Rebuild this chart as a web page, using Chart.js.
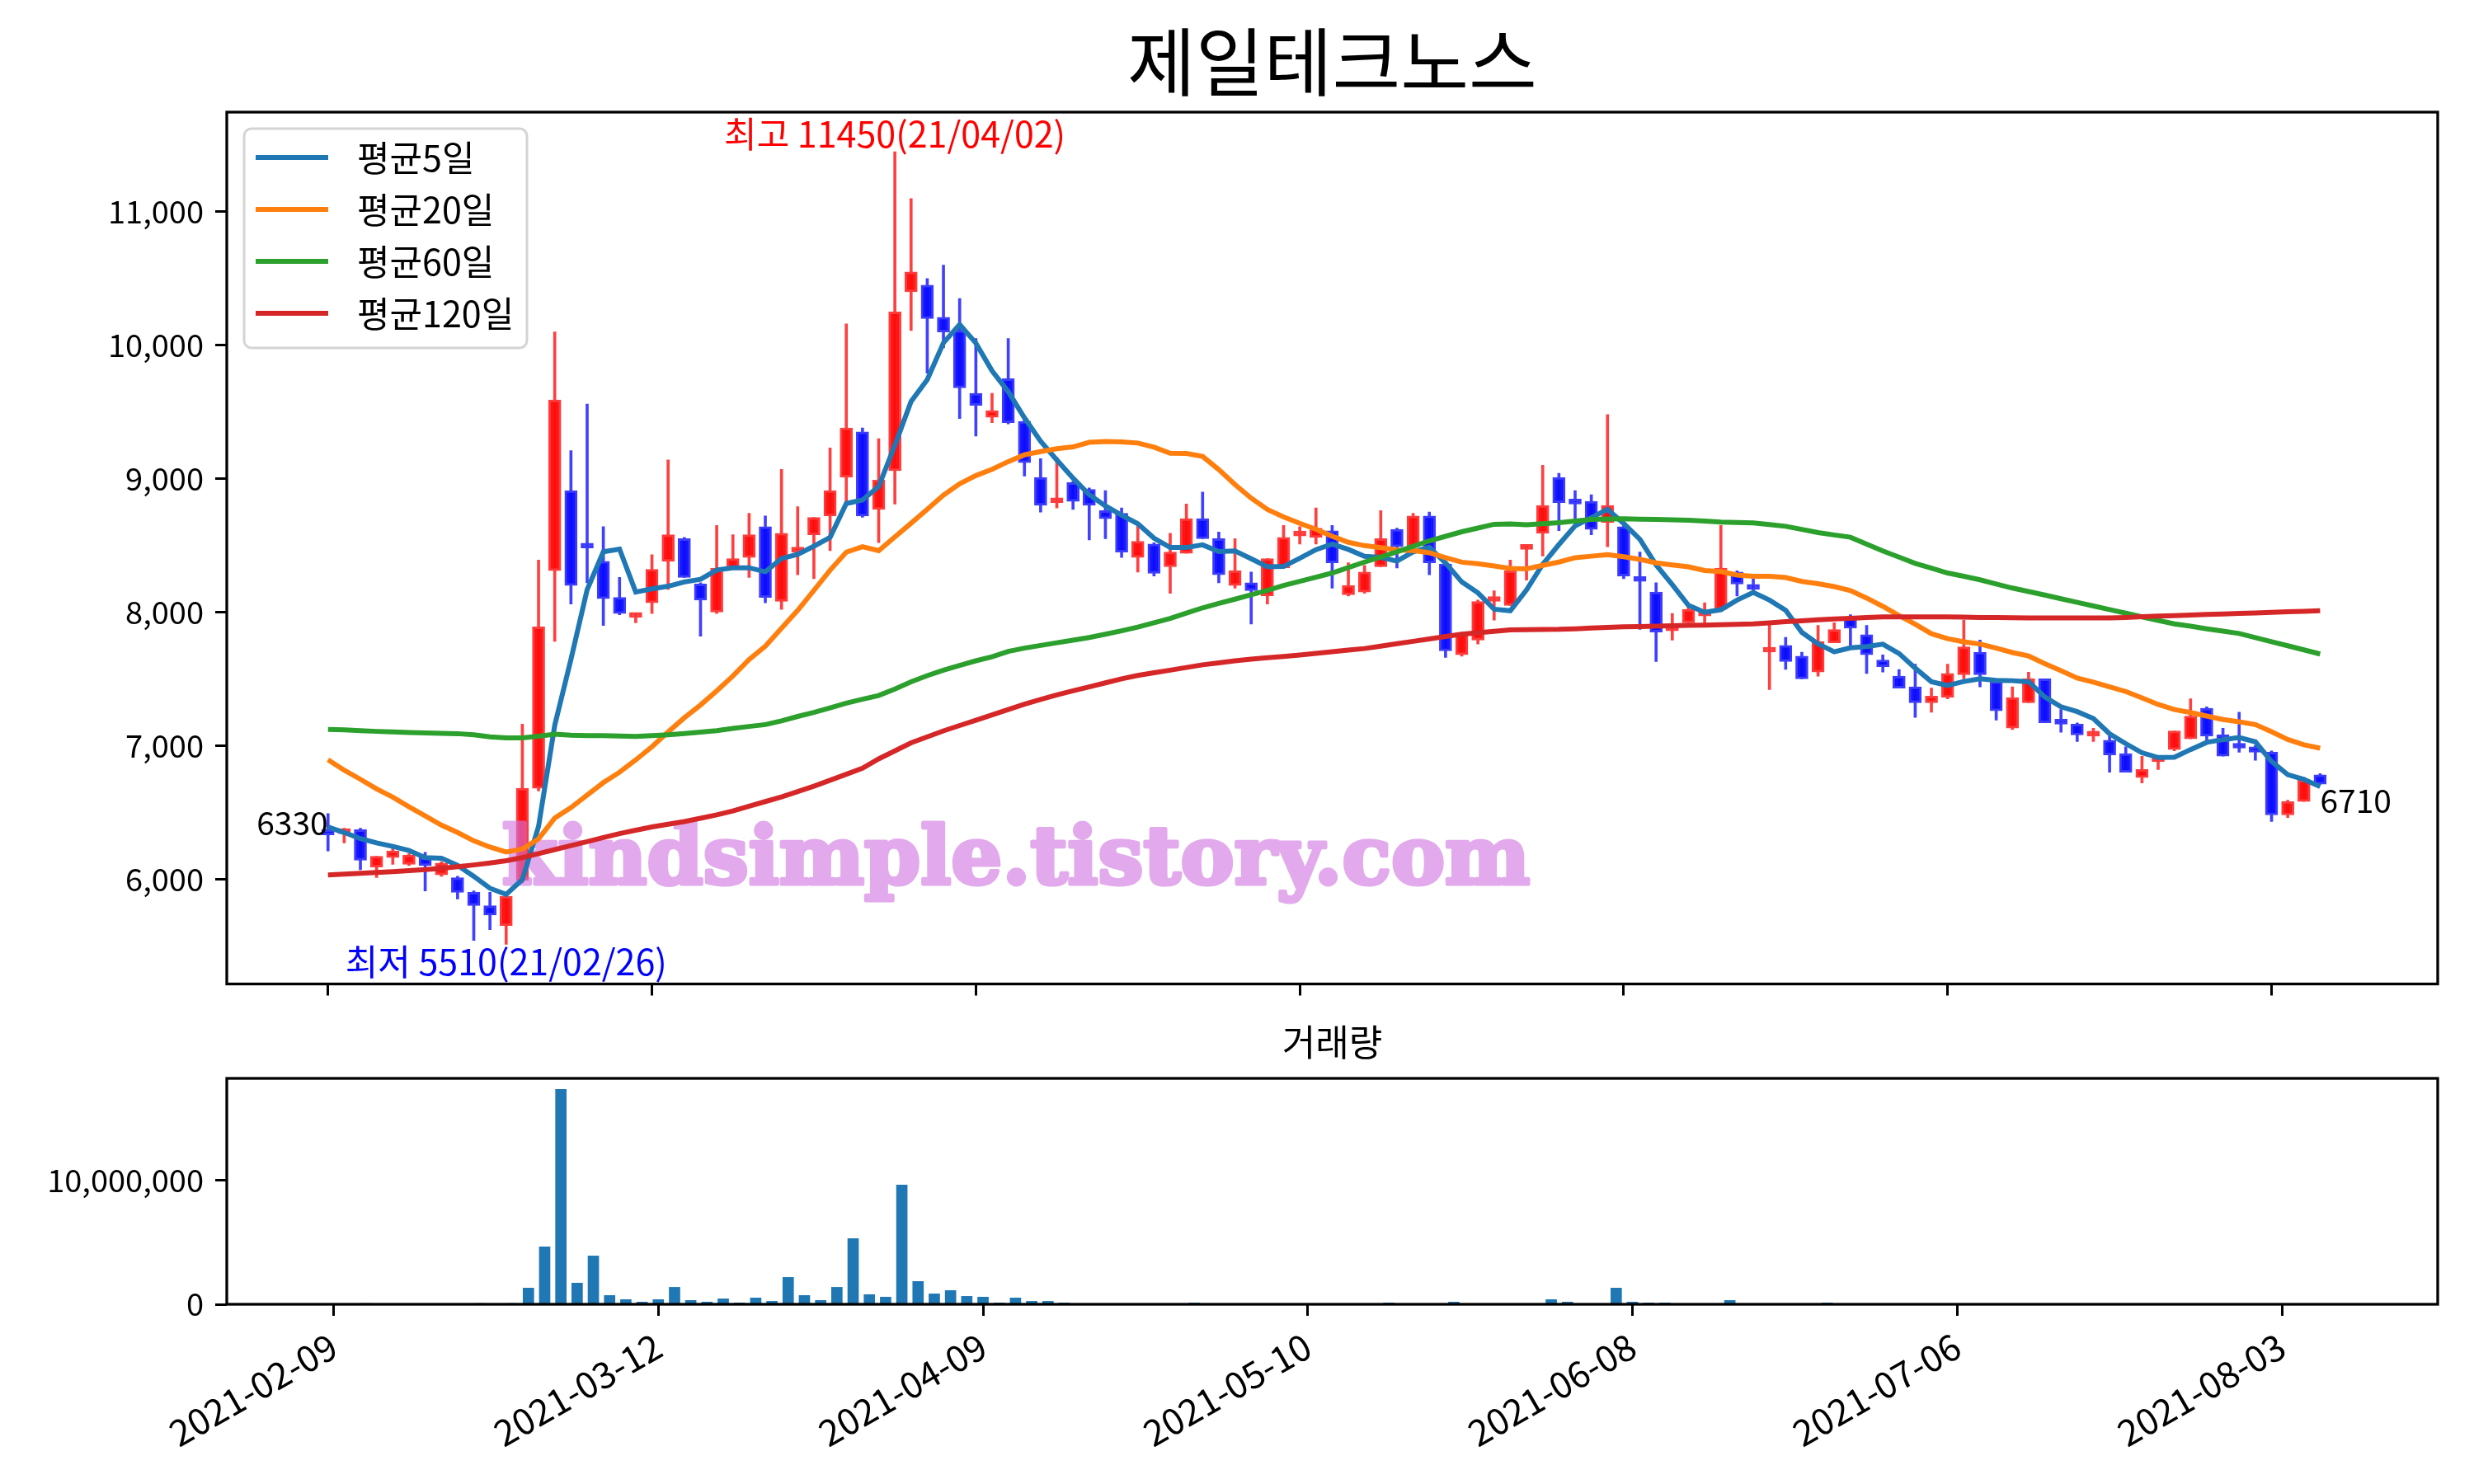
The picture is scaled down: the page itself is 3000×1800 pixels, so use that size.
<!DOCTYPE html>
<html>
<head>
<meta charset="utf-8">
<script src="https://cdn.jsdelivr.net/npm/chart.js@4.4.1/dist/chart.umd.min.js"></script>
<style>
  html, body { margin: 0; padding: 0; background: #fff; }
  #wrap { position: relative; width: 3000px; height: 1800px; }
  #price { position: absolute; left: 0; top: 0; }
  #vol { position: absolute; left: 0; top: 1240px; }
</style>
</head>
<body>
<div id="wrap">
  <canvas id="price" width="3000" height="1240"></canvas>
  <canvas id="vol" width="3000" height="560"></canvas>
</div>
<script>
// trading days shown on the chart
const dates = [
  '2021-02-09','2021-02-10','2021-02-15','2021-02-16','2021-02-17','2021-02-18','2021-02-19','2021-02-22','2021-02-23','2021-02-24',
  '2021-02-25','2021-02-26','2021-03-02','2021-03-03','2021-03-04','2021-03-05','2021-03-08','2021-03-09','2021-03-10','2021-03-11',
  '2021-03-12','2021-03-15','2021-03-16','2021-03-17','2021-03-18','2021-03-19','2021-03-22','2021-03-23','2021-03-24','2021-03-25',
  '2021-03-26','2021-03-29','2021-03-30','2021-03-31','2021-04-01','2021-04-02','2021-04-05','2021-04-06','2021-04-07','2021-04-08',
  '2021-04-09','2021-04-12','2021-04-13','2021-04-14','2021-04-15','2021-04-16','2021-04-19','2021-04-20','2021-04-21','2021-04-22',
  '2021-04-23','2021-04-26','2021-04-27','2021-04-28','2021-04-29','2021-04-30','2021-05-03','2021-05-04','2021-05-06','2021-05-07',
  '2021-05-10','2021-05-11','2021-05-12','2021-05-13','2021-05-14','2021-05-17','2021-05-18','2021-05-20','2021-05-21','2021-05-24',
  '2021-05-25','2021-05-26','2021-05-27','2021-05-28','2021-05-31','2021-06-01','2021-06-02','2021-06-03','2021-06-04','2021-06-07',
  '2021-06-08','2021-06-09','2021-06-10','2021-06-11','2021-06-14','2021-06-15','2021-06-16','2021-06-17','2021-06-18','2021-06-21',
  '2021-06-22','2021-06-23','2021-06-24','2021-06-25','2021-06-28','2021-06-29','2021-06-30','2021-07-01','2021-07-02','2021-07-05',
  '2021-07-06','2021-07-07','2021-07-08','2021-07-09','2021-07-12','2021-07-13','2021-07-14','2021-07-15','2021-07-16','2021-07-19',
  '2021-07-20','2021-07-21','2021-07-22','2021-07-23','2021-07-26','2021-07-27','2021-07-28','2021-07-29','2021-07-30','2021-08-02',
  '2021-08-03','2021-08-04','2021-08-05','2021-08-06'
];

const open = [
  6370,6340,6370,6090,6160,6110,6160,6030,6010,5900, 5800,5650,5990,6680,8310,8910,8490,8380,8110,7960,
  8070,8380,8550,8210,8000,8330,8410,8640,8080,8450, 8580,8720,9010,9350,8770,9060,10400,10450,10210,10110,
  9640,9460,9750,9430,9010,8820,8970,8920,8760,8740, 8410,8510,8340,8440,8700,8550,8200,8220,8120,8330,
  8570,8560,8610,8130,8150,8340,8620,8490,8720,8360, 7680,7790,8080,8050,8470,8590,9010,8840,8830,8670,
  8640,8260,8150,7860,7920,7970,8020,8300,8200,7700, 7750,7670,7550,7770,7960,7830,7640,7520,7440,7320,
  7360,7530,7700,7480,7130,7320,7500,7170,7160,7070, 7040,6940,6760,6880,6970,7050,7280,7080,6990,6990,
  6950,6480,6580,6780
];
const high = [
  6490,6380,6380,6170,6240,6190,6200,6130,6020,5910, 5900,5870,7160,8390,10100,9210,9560,8640,8260,7990,
  8430,9140,8560,8220,8650,8580,8740,8720,9070,8790, 8710,9230,10160,9380,9300,11450,11100,10500,10600,10350,
  10050,9640,10050,9440,9150,9160,8980,8930,8910,8780, 8650,8520,8590,8810,8900,8600,8550,8300,8400,8650,
  8640,8780,8650,8370,8350,8760,8630,8740,8750,8370, 7850,8090,8160,8390,8500,9100,9040,8910,8880,9480,
  8650,8450,8220,7990,8060,8070,8650,8310,8250,7910, 7810,7700,7900,7920,7980,7900,7680,7570,7610,7430,
  7610,7940,7790,7490,7440,7550,7500,7270,7170,7130, 7070,6990,6920,6920,7110,7350,7290,7130,7250,7000,
  6960,6590,6760,6790
];
const low = [
  6210,6270,6070,6010,6110,6100,5910,6020,5850,5540, 5620,5510,5970,6660,7780,8060,8220,7900,7980,7920,
  7990,8170,8260,7820,7990,8320,8260,8070,8020,8280, 8250,8460,8820,8710,8520,8810,10110,9790,9980,9450,
  9320,9420,9410,9020,8750,8780,8770,8540,8550,8410, 8300,8270,8140,8440,8550,8220,8180,7910,8060,8330,
  8510,8510,8180,8120,8140,8340,8330,8490,8280,7660, 7670,7760,7940,8050,8240,8420,8610,8700,8580,8490,
  8250,7870,7630,7790,7910,7920,8020,8120,8160,7420, 7570,7500,7520,7770,7750,7540,7550,7430,7210,7250,
  7350,7500,7440,7190,7120,7320,7170,7100,7030,7030, 6800,6800,6720,6820,6960,7050,7040,6920,6950,6890,
  6430,6460,6580,6710
];
const close = [
  6330,6370,6140,6170,6210,6180,6100,6120,5900,5800, 5730,5870,6680,7890,9590,8200,8480,8100,7990,7980,
  8320,8580,8260,8090,8330,8400,8580,8110,8590,8480, 8710,8910,9380,8720,8990,10250,10550,10200,10100,9680,
  9550,9510,9420,9120,8800,8850,8830,8800,8700,8450, 8530,8290,8450,8700,8550,8280,8310,8160,8400,8560,
  8590,8630,8370,8200,8300,8550,8490,8720,8370,7710, 7840,8080,8110,8310,8490,8800,8820,8810,8620,8800,
  8270,8230,7850,7880,8020,8010,8330,8210,8170,7730, 7630,7500,7780,7870,7880,7680,7590,7430,7320,7370,
  7540,7740,7530,7260,7360,7500,7170,7160,7080,7100, 6930,6800,6820,6900,7110,7220,7070,6920,6980,6950,
  6480,6580,6740,6710
];
const volume = [
  30000,25000,60000,20000,25000,20000,25000,30000,30000,60000,
  30000,60000,1310000,4630000,17340000,1710000,3900000,710000,380000,180000,
  380000,1370000,310000,180000,440000,110000,510000,240000,2170000,710000,
  310000,1370000,5300000,780000,580000,9620000,1840000,840000,1110000,640000,
  580000,110000,510000,240000,240000,110000,30000,45000,45000,45000,
  45000,45000,45000,110000,45000,30000,30000,45000,30000,30000,
  30000,45000,30000,25000,30000,110000,30000,25000,45000,180000,
  30000,25000,30000,25000,30000,380000,180000,30000,25000,1310000,
  180000,110000,110000,30000,25000,30000,310000,30000,25000,45000,
  45000,30000,110000,25000,30000,45000,25000,30000,45000,25000,
  30000,45000,25000,20000,25000,20000,25000,20000,25000,20000,
  25000,20000,25000,20000,25000,20000,25000,20000,25000,20000,
  25000,20000,25000,20000
];

const ma5 = [
  6389,6348,6302,6270,6244,6214,6160,6156,6102,6020, 5930,5884,5996,6394,7152,7646,8168,8452,8472,8150,
  8174,8194,8226,8246,8316,8332,8332,8302,8402,8432, 8494,8560,8814,8840,8942,9250,9578,9742,10018,10156,
  10016,9808,9652,9456,9280,9140,9004,8880,8796,8726, 8662,8554,8484,8484,8504,8454,8458,8400,8340,8342,
  8404,8468,8510,8470,8418,8410,8382,8452,8486,8368, 8226,8144,8022,8010,8166,8358,8506,8646,8708,8770,
  8664,8546,8354,8206,8050,7998,8018,8090,8148,8090, 8014,7848,7762,7702,7732,7742,7760,7690,7580,7478,
  7450,7480,7500,7488,7486,7478,7364,7290,7254,7202, 7088,7014,6946,6910,6912,6970,7024,7044,7060,7028,
  6880,6782,6746,6692
];
const ma20 = [
  6893,6815,6747,6675,6613,6541,6473,6404,6348,6286, 6239,6202,6224,6301,6457,6535,6628,6722,6800,6892,
  6991,7102,7208,7304,7410,7521,7645,7744,7879,8013, 8162,8314,8449,8490,8460,8563,8666,8771,8877,8962,
  9023,9070,9128,9179,9203,9225,9238,9272,9278,9276, 9267,9236,9190,9189,9167,9068,8956,8854,8769,8713,
  8665,8621,8569,8523,8498,8483,8466,8462,8445,8408, 8374,8363,8346,8327,8324,8350,8375,8408,8419,8431,
  8415,8395,8369,8353,8339,8312,8304,8278,8268,8269, 8259,8230,8213,8191,8161,8105,8043,7974,7909,7838,
  7801,7777,7761,7730,7697,7671,7613,7561,7506,7475, 7440,7405,7357,7308,7270,7247,7221,7195,7178,7157,
  7104,7046,7006,6980
];
const ma60 = [
  7120,7118,7112,7106,7102,7098,7095,7092,7089,7080, 7065,7058,7058,7070,7085,7078,7075,7074,7072,7068,
  7075,7080,7090,7100,7112,7128,7143,7157,7185,7218, 7248,7282,7318,7347,7375,7424,7478,7524,7565,7600,
  7635,7665,7705,7730,7750,7770,7789,7810,7834,7860, 7888,7920,7953,7992,8032,8065,8097,8130,8163,8200,
  8230,8262,8293,8334,8375,8413,8452,8493,8534,8568, 8602,8630,8658,8660,8654,8662,8670,8682,8695,8698,
  8700,8697,8695,8692,8689,8682,8674,8671,8668,8656, 8643,8620,8596,8578,8561,8510,8458,8412,8365,8329,
  8293,8268,8242,8211,8180,8154,8128,8100,8073,8046, 8019,7992,7964,7938,7912,7894,7875,7858,7840,7809,
  7778,7748,7717,7686
];
const ma120 = [
  6030,6036,6042,6048,6055,6062,6070,6080,6092,6105, 6120,6137,6160,6190,6220,6250,6280,6310,6340,6365,
  6390,6410,6430,6455,6480,6510,6545,6580,6615,6655, 6695,6740,6785,6830,6900,6960,7020,7065,7110,7150,
  7190,7230,7270,7310,7345,7380,7410,7440,7470,7500, 7525,7545,7565,7585,7605,7620,7635,7648,7658,7668,
  7678,7690,7703,7715,7727,7745,7763,7781,7799,7817, 7834,7845,7856,7867,7868,7870,7871,7875,7880,7885,
  7890,7892,7895,7898,7900,7903,7906,7909,7912,7920, 7928,7935,7943,7948,7954,7959,7964,7964,7964,7964,
  7964,7962,7960,7959,7958,7957,7957,7957,7957,7957, 7957,7960,7965,7970,7974,7978,7982,7986,7990,7994,
  7998,8002,8006,8011
];

const xTicks = [0, 20, 40, 60, 80, 100, 120];
const priceTicks = [6000, 7000, 8000, 9000, 10000, 11000];
const volTicks = [0, 10000000];
const maNames = ['평균5일', '평균20일', '평균60일', '평균120일'];
const maColors = ['#1f77b4', '#ff7f0e', '#2ca02c', '#d62728'];
const title = '제일테크노스';
const volTitle = '거래량';
const watermark = 'kindsimple.tistory.com';

const FONT = "'Noto Sans CJK KR', 'Noto Sans', sans-serif";
Chart.defaults.font.family = FONT;
Chart.defaults.font.size = 38;
Chart.defaults.color = '#000';

const idx = dates.map((d, i) => i);
const isUp = idx.map(i => close[i] >= open[i]);
const wickColor = idx.map(i => isUp[i] ? 'rgba(255,0,0,0.75)' : 'rgba(0,0,255,0.75)');
const bodyFill = idx.map(i => isUp[i] ? 'rgba(255,10,10,0.95)' : 'rgba(10,10,255,0.95)');
const bodyEdge = idx.map(i => isUp[i] ? 'rgba(255,60,60,1)' : 'rgba(60,60,255,1)');
const maSeries = [ma5, ma20, ma60, ma120];

function shortDate(d) { return d.slice(2).replace(/-/g, '/'); }

function drawFrame(ctx, a) {
    ctx.save();
    ctx.strokeStyle = '#000';
    ctx.lineWidth = 3.3;
    ctx.strokeRect(a.left, a.top, a.right - a.left, a.bottom - a.top);
    ctx.restore();
}

const priceDecor = {
    id: 'priceDecor',
    afterDatasetDraw(chart, args) {
        // watermark sits above the candles, under the average lines
        if (args.index !== 1) return;
        const { ctx, chartArea: a, canvas } = chart;
        const w = a.right - a.left, h = a.bottom - a.top;
        // draw it opaque off-screen first so stroke and fill don't double up
        const off = document.createElement('canvas');
        off.width = canvas.width;
        off.height = canvas.height;
        const o = off.getContext('2d');
        o.font = 'bold 100px "DejaVu Serif"';
        const size = 100 * (w * 0.465) / o.measureText(watermark).width;
        o.font = 'bold ' + size + 'px "DejaVu Serif"';
        o.fillStyle = 'rgb(208,118,224)';
        o.strokeStyle = 'rgb(208,118,224)';
        o.lineWidth = 5;
        o.lineJoin = 'round';
        o.textAlign = 'center';
        o.textBaseline = 'alphabetic';
        const cx = a.left + w * 0.357, cy = a.top + h * 0.885;
        o.strokeText(watermark, cx, cy);
        o.fillText(watermark, cx, cy);
        ctx.save();
        ctx.globalAlpha = 0.62;
        ctx.drawImage(off, 0, 0);
        ctx.restore();
    },
    afterDraw(chart) {
        const { ctx, chartArea: a, scales } = chart;
        const x = scales.x, y = scales.y;
        drawFrame(ctx, a);
        ctx.save();

        ctx.font = '90px ' + FONT;
        ctx.textAlign = 'center';
        ctx.textBaseline = 'alphabetic';
        ctx.fillText(title, (a.left + a.right) / 2, a.top - 27);

        // high / low / first / last annotations
        const hiVal = Math.max(...high), hiIdx = high.indexOf(hiVal);
        const loVal = Math.min(...low), loIdx = low.indexOf(loVal);
        const last = close.length - 1;
        ctx.font = '43px ' + FONT;
        ctx.fillStyle = '#ff0000';
        ctx.textBaseline = 'bottom';
        ctx.fillText('최고 ' + hiVal + '(' + shortDate(dates[hiIdx]) + ')', x.getPixelForValue(hiIdx), y.getPixelForValue(hiVal));
        ctx.fillStyle = '#0000ff';
        ctx.textBaseline = 'top';
        ctx.fillText('최저 ' + loVal + '(' + shortDate(dates[loIdx]) + ')', x.getPixelForValue(loIdx), y.getPixelForValue(loVal));
        ctx.font = '39px ' + FONT;
        ctx.fillStyle = '#000';
        ctx.textAlign = 'right';
        ctx.textBaseline = 'alphabetic';
        ctx.fillText(String(close[0]), x.getPixelForValue(0), y.getPixelForValue(close[0]));
        ctx.textAlign = 'left';
        ctx.textBaseline = 'top';
        ctx.fillText(String(close[last]), x.getPixelForValue(last), y.getPixelForValue(close[last]));

        // legend box, upper left
        const L = a.left + 21, T = a.top + 20, W = 343, H = 266;
        ctx.beginPath();
        ctx.roundRect(L, T, W, H, 9);
        ctx.fillStyle = 'rgba(255,255,255,0.8)';
        ctx.fill();
        ctx.strokeStyle = '#d4d4d4';
        ctx.lineWidth = 3;
        ctx.stroke();
        ctx.font = '43px ' + FONT;
        ctx.textBaseline = 'middle';
        ctx.textAlign = 'left';
        maNames.forEach((name, k) => {
            const ry = T + 35 + k * 63;
            ctx.strokeStyle = maColors[k];
            ctx.lineWidth = 6;
            ctx.beginPath();
            ctx.moveTo(L + 14, ry);
            ctx.lineTo(L + 102, ry);
            ctx.stroke();
            ctx.fillStyle = '#000';
            ctx.fillText(name, L + 137, ry + 1);
        });
        ctx.restore();
    }
};

const volDecor = {
    id: 'volDecor',
    afterDraw(chart) {
        const { ctx, chartArea: a } = chart;
        drawFrame(ctx, a);
        ctx.save();
        ctx.font = '44px ' + FONT;
        ctx.textAlign = 'center';
        ctx.textBaseline = 'alphabetic';
        ctx.fillText(volTitle, (a.left + a.right) / 2, a.top - 27);
        ctx.restore();
    }
};

const tickGrid = { offset: false, drawOnChartArea: false, drawTicks: true, tickLength: 14, tickWidth: 3, tickColor: '#000' };

new Chart(document.getElementById('price'), {
    type: 'bar',
    data: {
        datasets: [
            {
                type: 'bar', label: 'wick',
                data: idx.map(i => ({ x: i, y: [low[i], high[i]] })),
                backgroundColor: wickColor, barThickness: 3, grouped: false, order: 10
            },
            {
                type: 'bar', label: 'body',
                data: idx.map(i => ({ x: i, y: [Math.min(open[i], close[i]), Math.max(open[i], close[i])] })),
                backgroundColor: bodyFill, borderColor: bodyEdge, borderWidth: 3, borderSkipped: false,
                barThickness: 15, minBarLength: 6, grouped: false, order: 9
            },
            ...maSeries.map((s, k) => ({
                type: 'line', label: maNames[k],
                data: s.map((v, i) => ({ x: i, y: v })),
                borderColor: maColors[k], borderWidth: 6, pointRadius: 0, tension: 0, order: 8 - k
            }))
        ]
    },
    options: {
        responsive: false,
        animation: false,
        layout: { padding: { top: 136, right: 44, left: 0, bottom: 0 } },
        plugins: { legend: { display: false }, tooltip: { enabled: false } },
        scales: {
            x: {
                type: 'linear', min: -6.25, max: 130.26, offset: false,
                afterBuildTicks: s => { s.ticks = xTicks.map(v => ({ value: v })); },
                afterFit: s => { s.height = 46.5; },
                ticks: { display: false },
                grid: tickGrid,
                border: { display: false }
            },
            y: {
                min: 5213, max: 11747,
                afterBuildTicks: s => { s.ticks = priceTicks.map(v => ({ value: v })); },
                afterFit: s => { s.width = 275; },
                ticks: { padding: 14, callback: v => v.toLocaleString('en-US') },
                grid: tickGrid,
                border: { display: false }
            }
        }
    },
    plugins: [priceDecor]
});

new Chart(document.getElementById('vol'), {
    type: 'bar',
    data: {
        datasets: [{
            label: volTitle,
            data: idx.map(i => ({ x: i, y: volume[i] })),
            backgroundColor: '#1f77b4', barThickness: 13, grouped: false
        }]
    },
    options: {
        responsive: false,
        animation: false,
        layout: { padding: { top: 68, right: 44, left: 0, bottom: 0 } },
        plugins: { legend: { display: false }, tooltip: { enabled: false } },
        scales: {
            x: {
                type: 'linear', min: -6.58, max: 129.6, offset: false,
                afterBuildTicks: s => { s.ticks = xTicks.map(v => ({ value: v })); },
                afterFit: s => { s.height = 218; },
                ticks: { autoSkip: false, minRotation: 30, maxRotation: 30, padding: 10, font: { size: 44 }, callback: v => dates[v] },
                grid: tickGrid,
                border: { display: false }
            },
            y: {
                min: 0, max: 18230000,
                afterBuildTicks: s => { s.ticks = volTicks.map(v => ({ value: v })); },
                afterFit: s => { s.width = 275; },
                ticks: { padding: 14, callback: v => v.toLocaleString('en-US') },
                grid: tickGrid,
                border: { display: false }
            }
        }
    },
    plugins: [volDecor]
});
</script>
</body>
</html>
